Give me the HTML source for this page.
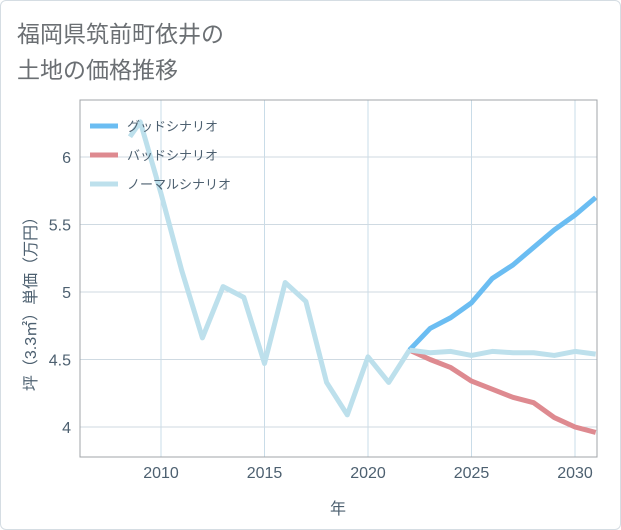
<!DOCTYPE html>
<html><head><meta charset="utf-8"><style>
body{margin:0;background:#fff;}
#card{position:absolute;left:0;top:0;width:619px;height:528px;border:1px solid #d5dde3;border-radius:6px;background:#fff;}
svg{position:absolute;left:0;top:0;}
text{font-family:"Liberation Sans","Noto Sans CJK JP",sans-serif;}
</style></head><body>
<div id="card"></div>
<svg id="chart" width="621" height="530">
<text x="17" y="42" font-size="23" fill="#6b6f73">福岡県筑前町依井の</text>
<text x="17" y="78" font-size="23" fill="#6b6f73">土地の価格推移</text>
<g id="grid"></g><g id="series"></g><g id="axes"></g><g id="legend"></g>
</svg>
<script>
const years=[2008.5,2009,2010,2011,2012,2013,2014,2015,2016,2017,2018,2019,2020,2021,2022];
const normalHist=[6.15,6.26,5.73,5.16,4.66,5.04,4.96,4.47,5.07,4.93,4.33,4.09,4.52,4.33,4.57];
const futureYears=[2022,2023,2024,2025,2026,2027,2028,2029,2030,2031];
const goodVals=[4.57,4.73,4.81,4.92,5.10,5.20,5.33,5.46,5.57,5.70];
const badVals=[4.57,4.50,4.44,4.34,4.28,4.22,4.18,4.07,4.00,3.96];
const normalFuture=[4.57,4.55,4.56,4.53,4.56,4.55,4.55,4.53,4.56,4.54];
const xTicks=[2010,2015,2020,2025,2030];
const yTicks=[4,4.5,5,5.5,6];
const yTickLabels=["4","4.5","5","5.5","6"];

const L=80,R=597,T=100,B=457;
const x=v=>161+(v-2010)*20.7;
const y=v=>427-(v-4)*135;
const NS="http://www.w3.org/2000/svg";
function mk(tag,parent,attrs){const e=document.createElementNS(NS,tag);for(const k in attrs)e.setAttribute(k,attrs[k]);parent.appendChild(e);return e;}
const grid=document.getElementById('grid'),axes=document.getElementById('axes'),ser=document.getElementById('series'),leg=document.getElementById('legend');
xTicks.forEach(t=>{
  const l=mk('line',grid,{x1:x(t),x2:x(t),y1:T,y2:B,stroke:'#c9dce8','stroke-width':1});
  
  
  const tx=mk('text',axes,{x:x(t),y:478,'text-anchor':'middle','font-size':16,fill:'#4d6070'});
  tx.textContent=t;
  
  
});
yTicks.forEach((t,i)=>{
  const l=mk('line',grid,{x1:L,x2:R,y1:y(t),y2:y(t),stroke:'#cfdae2','stroke-width':1});
  
  
  const tx=mk('text',axes,{x:71,y:y(t)+6,'text-anchor':'end','font-size':16,fill:'#4d6070'});
  tx.textContent=yTickLabels[i];
  
  
});
const fr=mk('rect',axes,{x:L,y:T,width:R-L,height:B-T,fill:'none',stroke:'#a0a4a8','stroke-width':1});


const xt=mk('text',axes,{x:338,y:514,'text-anchor':'middle','font-size':16,fill:'#4d6070'});
xt.textContent='年';


const yt=mk('text',axes,{x:0,y:0,'text-anchor':'middle','font-size':16,fill:'#4d6070',transform:'translate(36,300) rotate(-90)'});
yt.textContent='坪（3.3㎡）単価（万円）';



const cp=mk('clipPath',ser,{id:'clip'});mk('rect',cp,{x:L,y:T,width:R-L,height:B-T});
function line(xs,vs,color,name){
  const p=mk('polyline',ser,{points:xs.map((v,i)=>x(v)+','+y(vs[i])).join(' '),fill:'none',stroke:color,'stroke-width':5,'stroke-linejoin':'round','clip-path':'url(#clip)'});
  
  
}
line(futureYears,badVals,'#de8a90','bad-scenario-line');
line(futureYears,goodVals,'#6bbdf2','good-scenario-line');
line(years,normalHist,'#bde0ec','normal-history-line');
line(futureYears,normalFuture,'#bde0ec','normal-scenario-line');

[['グッドシナリオ','#6bbdf2','legend-good'],['バッドシナリオ','#de8a90','legend-bad'],['ノーマルシナリオ','#bde0ec','legend-normal']].forEach((d,i)=>{
  const g=mk('g',leg,{});
  
  
  mk('line',g,{x1:90,x2:118,y1:126+i*29,y2:126+i*29,stroke:d[1],'stroke-width':5});
  const t=mk('text',g,{x:127,y:131+i*29,'font-size':13,fill:'#4d6070'});t.textContent=d[0];
});
</script>
</body></html>
